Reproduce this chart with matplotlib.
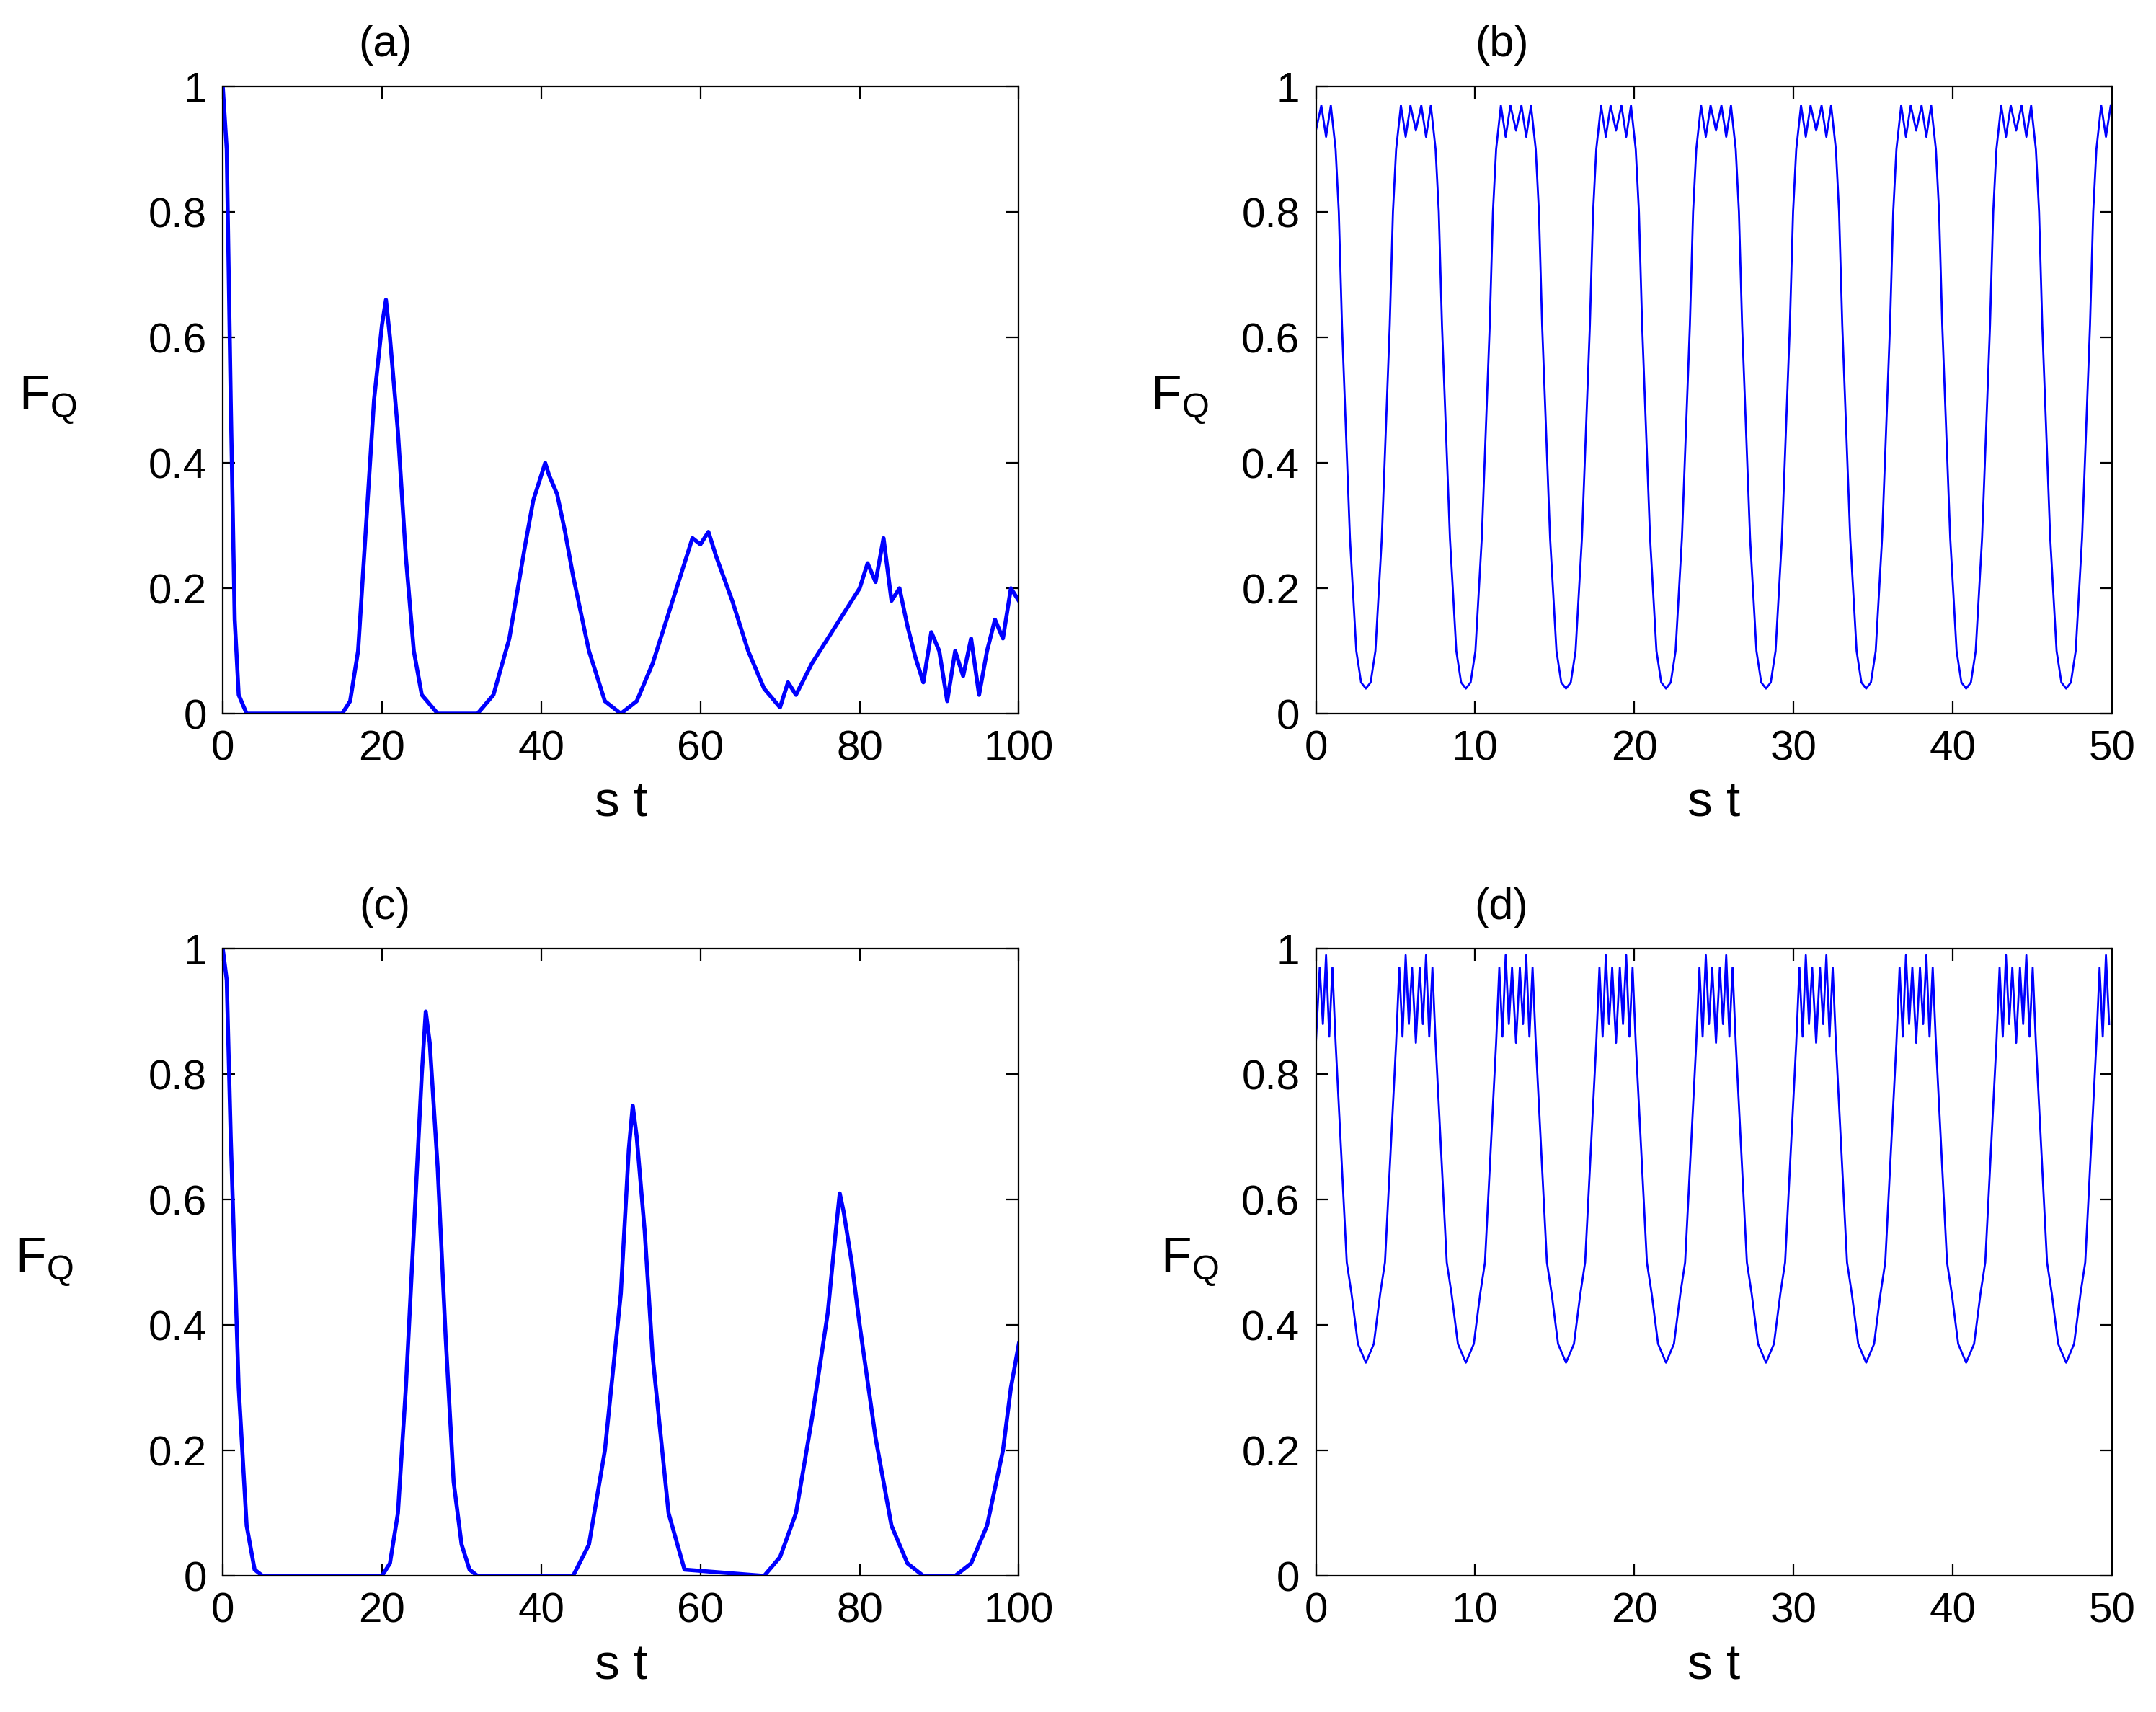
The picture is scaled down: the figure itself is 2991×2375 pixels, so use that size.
import numpy as np
import matplotlib
matplotlib.use("Agg")
import matplotlib.pyplot as plt

# Panel (a) sampled points
a_x = [0,0.5,1,1.5,2,3,15,16,17,18,19,20,20.5,21,22,23,24,25,27,32,34,36,38,39,40,40.5,41,42,43,44,46,48,50,52,54,56,58,59,60,61,62,64,66,68,70,71,72,74,76,78,80,81,82,83,84,85,86,87,88,89,90,91,92,93,94,95,96,97,98,99,100]
a_y = [1,0.9,0.5,0.15,0.03,0,0,0.02,0.1,0.3,0.5,0.62,0.66,0.6,0.45,0.25,0.1,0.03,0,0,0.03,0.12,0.27,0.34,0.38,0.4,0.38,0.35,0.29,0.22,0.1,0.02,0,0.02,0.08,0.16,0.24,0.28,0.27,0.29,0.25,0.18,0.1,0.04,0.01,0.05,0.03,0.08,0.12,0.16,0.2,0.24,0.21,0.28,0.18,0.2,0.14,0.09,0.05,0.13,0.1,0.02,0.1,0.06,0.12,0.03,0.1,0.15,0.12,0.2,0.18]
# Panel (c) sampled points
c_x = [0,0.5,1,2,3,4,5,20,21,22,23,24,25,25.5,26,27,28,29,30,31,32,44,46,48,50,51,51.5,52,53,54,56,58,68,70,72,74,76,77,77.5,78,79,80,82,84,86,88,92,94,96,98,99,100]
c_y = [1,0.95,0.7,0.3,0.08,0.01,0,0,0.02,0.1,0.3,0.55,0.8,0.9,0.85,0.65,0.38,0.15,0.05,0.01,0,0,0.05,0.2,0.45,0.68,0.75,0.7,0.55,0.35,0.1,0.01,0,0.03,0.1,0.25,0.42,0.55,0.61,0.58,0.5,0.4,0.22,0.08,0.02,0,0,0.02,0.08,0.2,0.3,0.37]
# Panels (b),(d): trough centres and one-period profiles
troughs = [-3.14,3.14,9.42,15.71,21.99,28.27,34.56,40.84,47.12,53.4]
b_off = [-3.14,-2.8,-2.5,-2.2,-1.9,-1.7,-1.5,-1.0,-0.6,-0.3,0,0.3,0.6,1.0,1.5,1.7,1.9,2.2,2.5,2.8]
b_val = [0.93,0.97,0.92,0.97,0.9,0.8,0.62,0.28,0.1,0.05,0.04,0.05,0.1,0.28,0.62,0.8,0.9,0.97,0.92,0.97]
d_off = [-3.14,-2.9,-2.7,-2.5,-2.3,-2.1,-1.9,-1.7,-1.4,-1.2,-0.9,-0.5,0,0.5,0.9,1.2,1.4,1.7,1.9,2.1,2.3,2.5,2.7,2.9]
d_val = [0.85,0.97,0.88,0.99,0.86,0.97,0.85,0.75,0.6,0.5,0.45,0.37,0.34,0.37,0.45,0.5,0.6,0.75,0.85,0.97,0.86,0.99,0.88,0.97]

def tile(off, val):
    xs, ys = [], []
    for t in troughs:
        xs += [t + o for o in off]; ys += val
    xs = np.array(xs); ys = np.array(ys)
    m = (xs >= 0) & (xs <= 50)
    return xs[m], ys[m]

plt.rcParams['font.family'] = ['Liberation Sans', 'DejaVu Sans']
fig = plt.figure(figsize=(14.955, 11.875), dpi=200)
W, H = 1568, 1245
def ax_at(l, r, t, b):
    return fig.add_axes([l/W, 1-b/H, (r-l)/W, (b-t)/H])

panels = [
    (ax_at(162, 741, 63, 519), a_x, a_y, 100, [0,20,40,60,80,100], '(a)', 2.0, 280),
    (ax_at(957, 1536, 63, 519), *tile(b_off, b_val), 50, [0,10,20,30,40,50], '(b)', 1.0, 1092),
    (ax_at(162, 741, 690, 1146), c_x, c_y, 100, [0,20,40,60,80,100], '(c)', 2.0, 280),
    (ax_at(957, 1536, 690, 1146), *tile(d_off, d_val), 50, [0,10,20,30,40,50], '(d)', 1.0, 1092),
]
ylab_x = {'(a)': 35, '(b)': 858, '(c)': 32, '(d)': 865}
for ax, x, y, xmax, xt, lab, lw, tx in panels:
    ax.plot(x, y, color='#0000ff', lw=lw)
    ax.set_xlim(0, xmax); ax.set_ylim(0, 1)
    ax.set_xticks(xt); ax.set_yticks([0,0.2,0.4,0.6,0.8,1])
    ax.set_yticklabels(['0','0.2','0.4','0.6','0.8','1'])
    ax.tick_params(direction='in', labelsize=21, length=6, top=True, right=True, pad=8)
    ax.set_xlabel('s t', fontsize=25, labelpad=6)
    pos = ax.get_position()
    fig.text(ylab_x[lab]/W, pos.y0 + pos.height*0.5, r'F$_\mathregular{Q}$', fontsize=25, ha='center', va='center')
    fig.text(tx/W, pos.y1 + 30/H, lab, fontsize=22, ha='center', va='center')

fig.savefig('out.png', dpi=200)
